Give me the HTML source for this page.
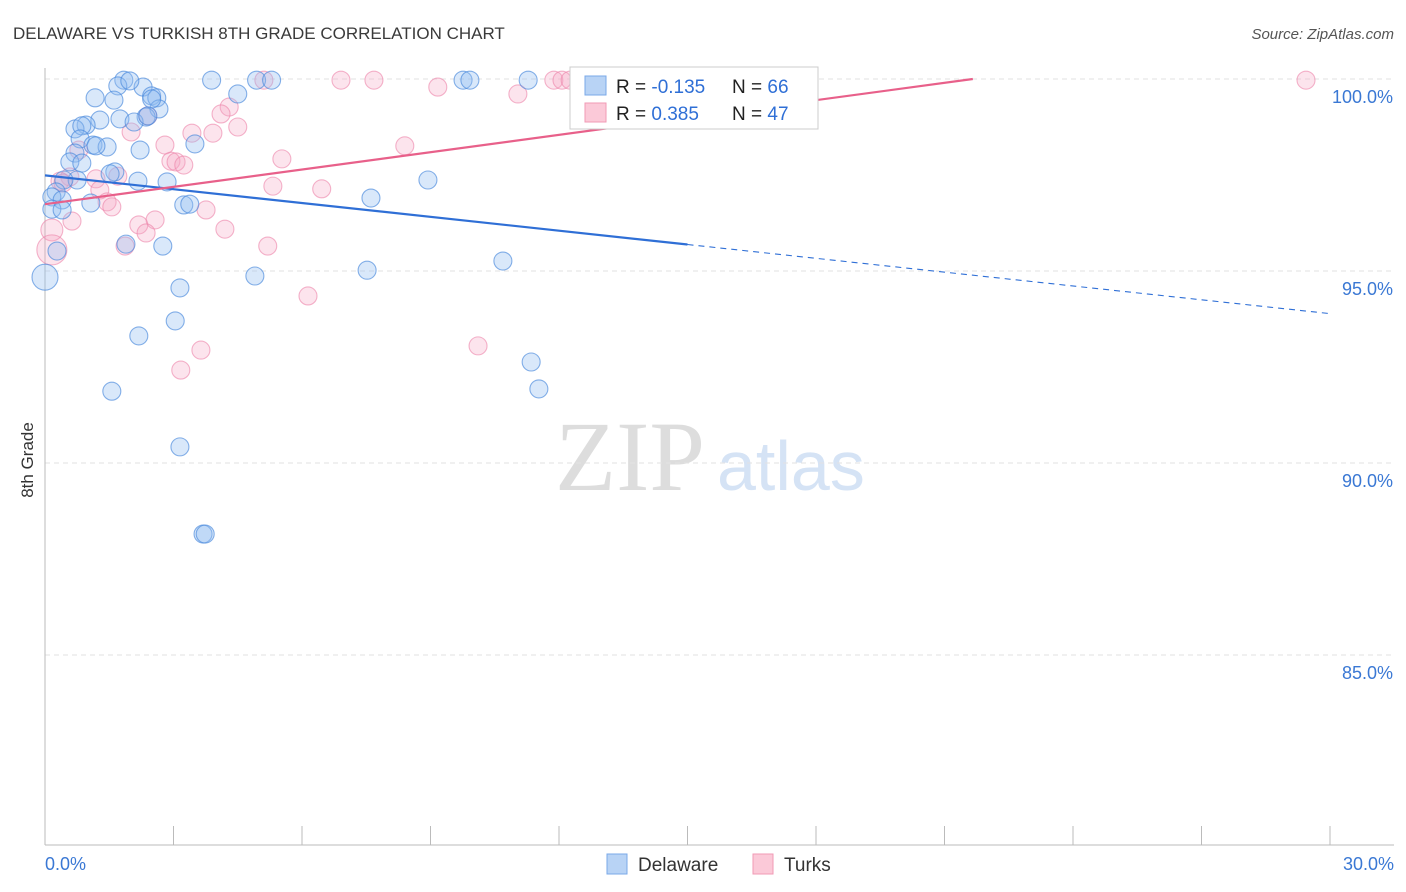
<!DOCTYPE html>
<html><head><meta charset="utf-8"><style>
body{margin:0;background:#fff;font-family:"Liberation Sans",sans-serif;}
svg{display:block}
</style></head><body>
<svg width="1406" height="892" viewBox="0 0 1406 892">
<text x="13" y="39" font-size="17" fill="#3a3a3a">DELAWARE VS TURKISH 8TH GRADE CORRELATION CHART</text>
<text x="1394" y="39" font-size="15" fill="#555" font-style="italic" text-anchor="end">Source: ZipAtlas.com</text>
<text x="33" y="460" font-size="17" fill="#333" transform="rotate(-90 33 460)" text-anchor="middle">8th Grade</text>
<text x="555" y="490" font-size="100" fill="#ddd" font-family="Liberation Serif,serif">ZIP</text>
<text x="717" y="490" font-size="70" fill="#d5e3f5">atlas</text>
<g id="grid"></g>
<g id="axes"></g>
<g id="pts"></g>
<g id="lines"></g>
<g>
<rect x="570" y="67" width="248" height="62" fill="#fff" stroke="#ccc"/>
<rect x="585" y="76" width="21" height="19" fill="#b8d3f5" stroke="#7aa8e8"/>
<rect x="585" y="103" width="21" height="19" fill="#fbc9d8" stroke="#f09ab5"/>
<text x="616" y="93" font-size="19" fill="#222">R = <tspan fill="#2f6fd6">-0.135</tspan></text>
<text x="732" y="93" font-size="19" fill="#222">N = <tspan fill="#2f6fd6">66</tspan></text>
<text x="616" y="120" font-size="19" fill="#222">R = <tspan fill="#2f6fd6"> 0.385</tspan></text>
<text x="732" y="120" font-size="19" fill="#222">N = <tspan fill="#2f6fd6">47</tspan></text>
</g>
<g>
<rect x="607" y="854" width="20" height="20" fill="#b8d3f5" stroke="#7aa8e8"/>
<text x="638" y="871" font-size="19" fill="#333">Delaware</text>
<rect x="753" y="854" width="20" height="20" fill="#fbc9d8" stroke="#f09ab5"/>
<text x="784" y="871" font-size="19" fill="#333">Turks</text>
</g>
</svg>
<script>
const yTicks=[100,95,90,85];
const yTickLabels=["100.0%","95.0%","90.0%","85.0%"];
const xTickLabels=["0.0%","30.0%"];
const delawareX=[1.84,3.89,4.94,5.29,9.76,9.92,11.28,1.7,2.29,2.49,2.61,1.17,1.61,4.5,2.66,2.36,1.75,2.08,1.28,0.96,0.7,0.86,0.82,0.7,1.12,1.45,2.22,0.58,0.86,1.63,1.52,2.17,2.85,0.75,0.44,0.26,0.16,0.4,0.16,0.4,1.07,3.24,3.38,3.5,7.61,8.94,2.75,1.89,0.28,0,7.52,4.9,10.69,3.15,3.04,2.19,11.35,1.56,11.53,3.15,3.69,3.74,2.4,2.49,1.98,1.19];
const delawareY=[99.97,99.97,99.97,99.97,99.97,99.97,99.97,99.82,99.79,99.56,99.51,99.51,99.45,99.61,99.22,99.01,98.96,98.88,98.93,98.8,98.7,98.78,98.44,98.07,98.28,98.23,98.15,97.84,97.81,97.58,97.53,97.34,97.32,97.37,97.37,97.06,96.93,96.85,96.61,96.59,96.77,96.72,96.74,98.31,96.9,97.37,95.65,95.7,95.52,94.84,95.02,94.87,95.26,94.56,93.7,93.31,92.63,91.87,91.93,90.42,88.15,88.15,99.04,99.48,99.95,98.26];
const turksX=[6.91,7.68,5.11,11.88,12.07,12.26,29.44,9.17,11.04,4.3,4.11,4.5,3.92,3.43,2.01,2.8,0.79,2.4,2.94,3.06,3.24,5.53,8.4,1.7,1.19,0.58,0.35,1.28,1.45,1.56,5.32,6.46,3.76,2.57,2.19,2.36,4.2,0.63,0.16,0.16,1.87,5.2,6.14,3.64,3.17,10.11,0.42];
const turksY=[99.97,99.97,99.97,99.97,99.97,99.97,99.97,99.79,99.61,99.27,99.09,98.75,98.59,98.59,98.62,98.28,98.15,99.04,97.86,97.84,97.76,97.92,98.26,97.47,97.4,97.45,97.34,97.11,96.8,96.67,97.21,97.14,96.59,96.33,96.2,95.99,96.09,96.3,96.07,95.55,95.65,95.65,94.35,92.94,92.42,93.05,97.29];
const delawareBig={i:49,r:13};
const turksBig=[{i:38,r:11},{i:39,r:15}];
const ns="http://www.w3.org/2000/svg";
const X0=45,X1=1330,Y100=79,PX5=192;
const xs=v=>X0+v/30*(X1-X0);
const ys=v=>Y100+(100-v)/5*PX5;
function mk(t,a,p){const e=document.createElementNS(ns,t);for(const k in a)e.setAttribute(k,a[k]);p.appendChild(e);return e;}
const grid=document.getElementById('grid'),axes=document.getElementById('axes');
yTicks.forEach((t,i)=>{
 const l=mk('line',{x1:X0,x2:1394,y1:ys(t),y2:ys(t),stroke:'#e2e2e2','stroke-dasharray':'5,4'},grid);
 
 
 const tx=mk('text',{x:1393,y:ys(t)+24,'font-size':18,fill:'#3a78d4','text-anchor':'end'},axes);
 tx.textContent=yTickLabels[i];
 
 
});
const ya=mk('line',{x1:X0,x2:X0,y1:68,y2:845,stroke:'#bbb'},axes);


const xa=mk('line',{x1:X0,x2:1394,y1:845,y2:845,stroke:'#bbb'},axes);


for(let i=0;i<=10;i++){
 const tk=mk('line',{x1:xs(i*3),x2:xs(i*3),y1:826,y2:845,stroke:'#bbb'},axes);
 
 
}
[[0,'start',45],[30,'end',1394]].forEach((d,i)=>{
 const tx=mk('text',{x:d[2],y:870,'font-size':18,fill:'#3a78d4','text-anchor':d[1]},axes);
 tx.textContent=xTickLabels[i];
 
 
});
const pts=document.getElementById('pts');
turksX.forEach((x,i)=>{
 let r=9;turksBig.forEach(b=>{if(b.i===i)r=b.r;});
 const c=mk('circle',{cx:xs(x),cy:ys(turksY[i]),r:r,fill:'rgba(246,165,195,0.3)',stroke:'rgba(236,130,168,0.6)','stroke-width':1.1},pts);
 
 
});
delawareX.forEach((x,i)=>{
 const r=i===delawareBig.i?delawareBig.r:9;
 const c=mk('circle',{cx:xs(x),cy:ys(delawareY[i]),r:r,fill:'rgba(145,188,240,0.35)',stroke:'rgba(70,135,220,0.65)','stroke-width':1.1},pts);
 
 
});
const lines=document.getElementById('lines');
const bA=97.49,bB=-0.12;
const pA=96.74,pB=0.1505;
const l1=mk('line',{x1:xs(0),y1:ys(bA),x2:xs(15),y2:ys(bA+bB*15),stroke:'#2f6fd6','stroke-width':2.2},lines);


const l2=mk('line',{x1:xs(15),y1:ys(bA+bB*15),x2:xs(30),y2:ys(bA+bB*30),stroke:'#2f6fd6','stroke-width':1.1,'stroke-dasharray':'6,5'},lines);


const xe=(100-pA)/pB;
const l3=mk('line',{x1:xs(0),y1:ys(pA),x2:xs(xe),y2:ys(100),stroke:'#e8608a','stroke-width':2.2},lines);


</script>
</body></html>
